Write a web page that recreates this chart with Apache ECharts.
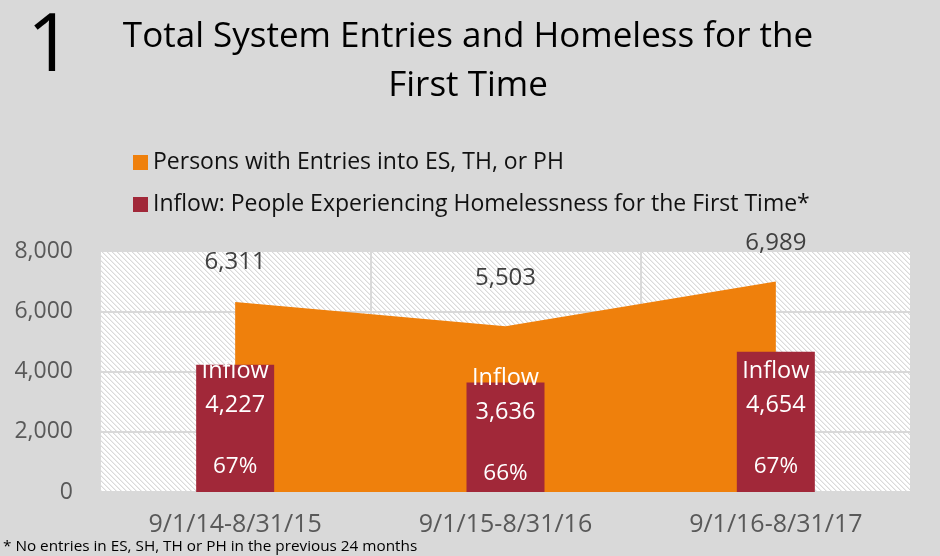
<!DOCTYPE html>
<html>
<head>
<meta charset="utf-8">
<script src="https://cdn.jsdelivr.net/npm/echarts@6/dist/echarts.min.js"></script>
<style>
  html, body { margin: 0; padding: 0; background: #d9d9d9; }
  #chart { width: 940px; height: 556px; }
</style>
</head>
<body>
<div id="chart"></div>
<script>
// data
const periods = ['9/1/14-8/31/15', '9/1/15-8/31/16', '9/1/16-8/31/17']
const entries = [6311, 5503, 6989]
const inflow = [4227, 3636, 4654]
const inflowPct = ['67%', '66%', '67%']
const yTicks = [0, 2000, 4000, 6000, 8000]

// label nudges so they sit where excel put them
const entryLabelGap = [28, 36, 26]
const inflowLabelShift = [-15, -26, -2]
const pctLabelGap = [14, 7, 14]

const FONT = '"Open Sans", Lato, sans-serif'
const fmt = v => v.toLocaleString('en-US')

// diagonal hatch for plot background
function hatch() {
  const p = 5
  const c = document.createElement('canvas')
  c.width = p; c.height = p
  const ctx = c.getContext('2d')
  const img = ctx.createImageData(p, p)
  for (let y = 0; y < p; y++) {
    for (let x = 0; x < p; x++) {
      const d = ((x - y) % p + p) % p
      const v = d === 0 ? 218 : (d === 1 ? 238 : 255)
      const i = (y * p + x) * 4
      img.data[i] = v; img.data[i + 1] = v; img.data[i + 2] = v; img.data[i + 3] = 255
    }
  }
  ctx.putImageData(img, 0, 0)
  return c
}

const chart = echarts.init(document.getElementById('chart'))
chart.setOption({
  backgroundColor: '#d9d9d9',
  textStyle: { fontFamily: FONT },
  animation: false,
  title: [
    {
      text: '1',
      left: 22, top: 3,
      textStyle: { fontSize: 80, fontWeight: 'normal', color: '#000', fontFamily: FONT }
    },
    {
      text: 'Total System Entries and Homeless for the\nFirst Time',
      left: 463, top: 8,
      textAlign: 'center',
      textStyle: { fontSize: 35, fontWeight: 'normal', color: '#000', lineHeight: 49, fontFamily: FONT }
    }
  ],
  legend: {
    orient: 'vertical',
    left: 128, top: 146,
    itemGap: 19,
    itemWidth: 15, itemHeight: 15,
    icon: 'rect',
    data: ['Persons with Entries into ES, TH, or PH', 'Inflow: People Experiencing Homelessness for the First Time*'],
    textStyle: { fontSize: 23, color: '#111', fontFamily: FONT }
  },
  graphic: [{
    type: 'text',
    left: 3, top: 539,
    style: { text: '* No entries in ES, SH, TH or PH in the previous 24 months', fontSize: 15.3, fill: '#000', fontFamily: FONT }
  }],
  grid: {
    left: 100, right: 29, top: 251, bottom: 64,
    show: true,
    borderWidth: 0,
    backgroundColor: { image: hatch(), repeat: 'repeat' }
  },
  xAxis: {
    type: 'category',
    data: periods,
    axisLine: { show: false },
    axisTick: { show: false },
    splitLine: { show: true, lineStyle: { color: '#d9d9d9', width: 2 } },
    axisLabel: { fontSize: 25, color: '#595959', margin: 20, fontFamily: FONT }
  },
  yAxis: {
    type: 'value',
    min: yTicks[0], max: yTicks[yTicks.length - 1], interval: 2000,
    axisLine: { show: false },
    axisTick: { show: false },
    splitLine: { lineStyle: { color: '#d9d9d9', width: 2 } },
    axisLabel: { fontSize: 23, color: '#595959', margin: 27, formatter: fmt, fontFamily: FONT }
  },
  series: [
    {
      name: 'Persons with Entries into ES, TH, or PH',
      type: 'line',
      z: 1,
      color: '#ef800c',
      symbol: 'circle',
      symbolSize: 0,
      lineStyle: { width: 0 },
      areaStyle: { color: '#ef800c', opacity: 1 },
      data: entries.map((v, i) => ({
        value: v,
        label: {
          show: true, position: 'top', distance: entryLabelGap[i],
          formatter: p => fmt(p.value), fontSize: 24, color: '#404040', fontFamily: FONT
        }
      }))
    },
    {
      name: 'Inflow: People Experiencing Homelessness for the First Time*',
      type: 'bar',
      z: 3,
      barWidth: 78,
      color: '#a12839',
      data: inflow.map((v, i) => ({
        value: v,
        label: {
          show: true, position: 'insideTop', offset: [0, inflowLabelShift[i]],
          formatter: p => 'Inflow\n' + fmt(p.value),
          fontSize: 23.5, lineHeight: 34, color: '#fff', fontFamily: FONT
        }
      }))
    },
    {
      name: 'pct',
      type: 'bar',
      z: 4,
      barWidth: 78,
      barGap: '-100%',
      itemStyle: { color: 'rgba(0,0,0,0)' },
      data: inflow.map((v, i) => ({
        value: v,
        label: {
          show: true, position: 'insideBottom', distance: pctLabelGap[i],
          formatter: () => inflowPct[i],
          fontSize: 22.5, color: '#fff', fontFamily: FONT
        }
      }))
    }
  ]
})
</script>
</body>
</html>
